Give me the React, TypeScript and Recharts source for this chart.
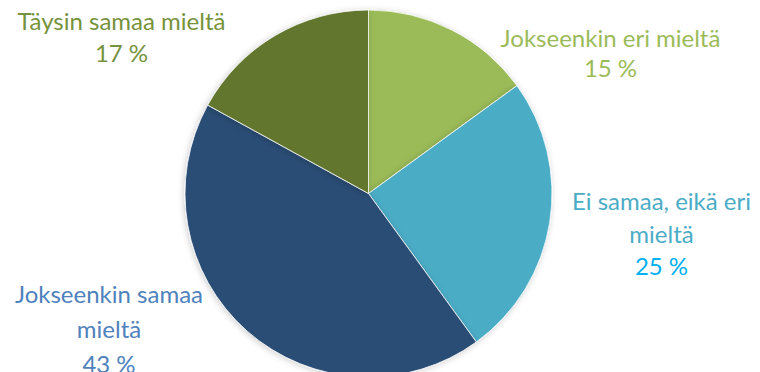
import { PieChart, Pie, Cell } from 'recharts'

const categories = [
  'Jokseenkin eri mieltä',
  'Ei samaa, eikä eri mieltä',
  'Jokseenkin samaa mieltä',
  'Täysin samaa mieltä',
]
const shares = [15, 25, 43, 17]

const sliceColors = ['#9BBB59', '#4BACC6', '#2C4D75', '#62762F']

// label text lines, colours and placement (text center x, baseline of each line)
const labelLines = [
  ['Jokseenkin eri mieltä'],
  ['Ei samaa, eikä eri', 'mieltä'],
  ['Jokseenkin samaa', 'mieltä'],
  ['Täysin samaa mieltä'],
]
const labelColors = ['#9BBB59', '#4BACC6', '#4F81BD', '#76923C']
const percentColors = ['#9BBB59', '#00B0F0', '#4F81BD', '#76923C']
const labelX = [610.5, 661.5, 109, 121.5]
const labelBaselines = [
  [47, 77],
  [210, 243, 275],
  [303, 338, 373],
  [30, 62],
]

const data = categories.map((name, i) => ({ name, value: shares[i] }))

const FONT = "Lato, 'Open Sans', sans-serif"

function renderLabel(props: any) {
  const i = props.index
  const lines = [...labelLines[i], `${shares[i]} %`]
  return (
    <g key={`lbl-${i}`}>
      {lines.map((t, k) => (
        <text
          key={k}
          x={labelX[i]}
          y={labelBaselines[i][k]}
          textAnchor="middle"
          fill={k === lines.length - 1 ? percentColors[i] : labelColors[i]}
          fontSize={24}
          fontFamily={FONT}
        >
          {t}
        </text>
      ))}
    </g>
  )
}

export default function App() {
  return (
    <div style={{ position: 'absolute', left: 0, top: 0, width: 760, height: 372, background: '#fff', overflow: 'hidden' }}>
      <PieChart width={760} height={372} margin={{ top: 0, right: 0, bottom: 0, left: 0 }}>
        <defs>
          <filter id="pieShadow" x="-10%" y="-10%" width="120%" height="120%">
            <feDropShadow dx="-1" dy="1" stdDeviation="3" floodColor="#000" floodOpacity="0.2" />
          </filter>
        </defs>
        <Pie
          data={data}
          dataKey="value"
          nameKey="name"
          cx={368.5}
          cy={193.5}
          innerRadius={0}
          outerRadius={183.5}
          startAngle={90}
          endAngle={-270}
          stroke="#ffffff"
          strokeWidth={0.75}
          labelLine={false}
          label={renderLabel}
          isAnimationActive={false}
          style={{ filter: 'url(#pieShadow)' }}
        >
          {data.map((d, i) => (
            <Cell key={d.name} fill={sliceColors[i]} />
          ))}
        </Pie>
      </PieChart>
    </div>
  )
}
